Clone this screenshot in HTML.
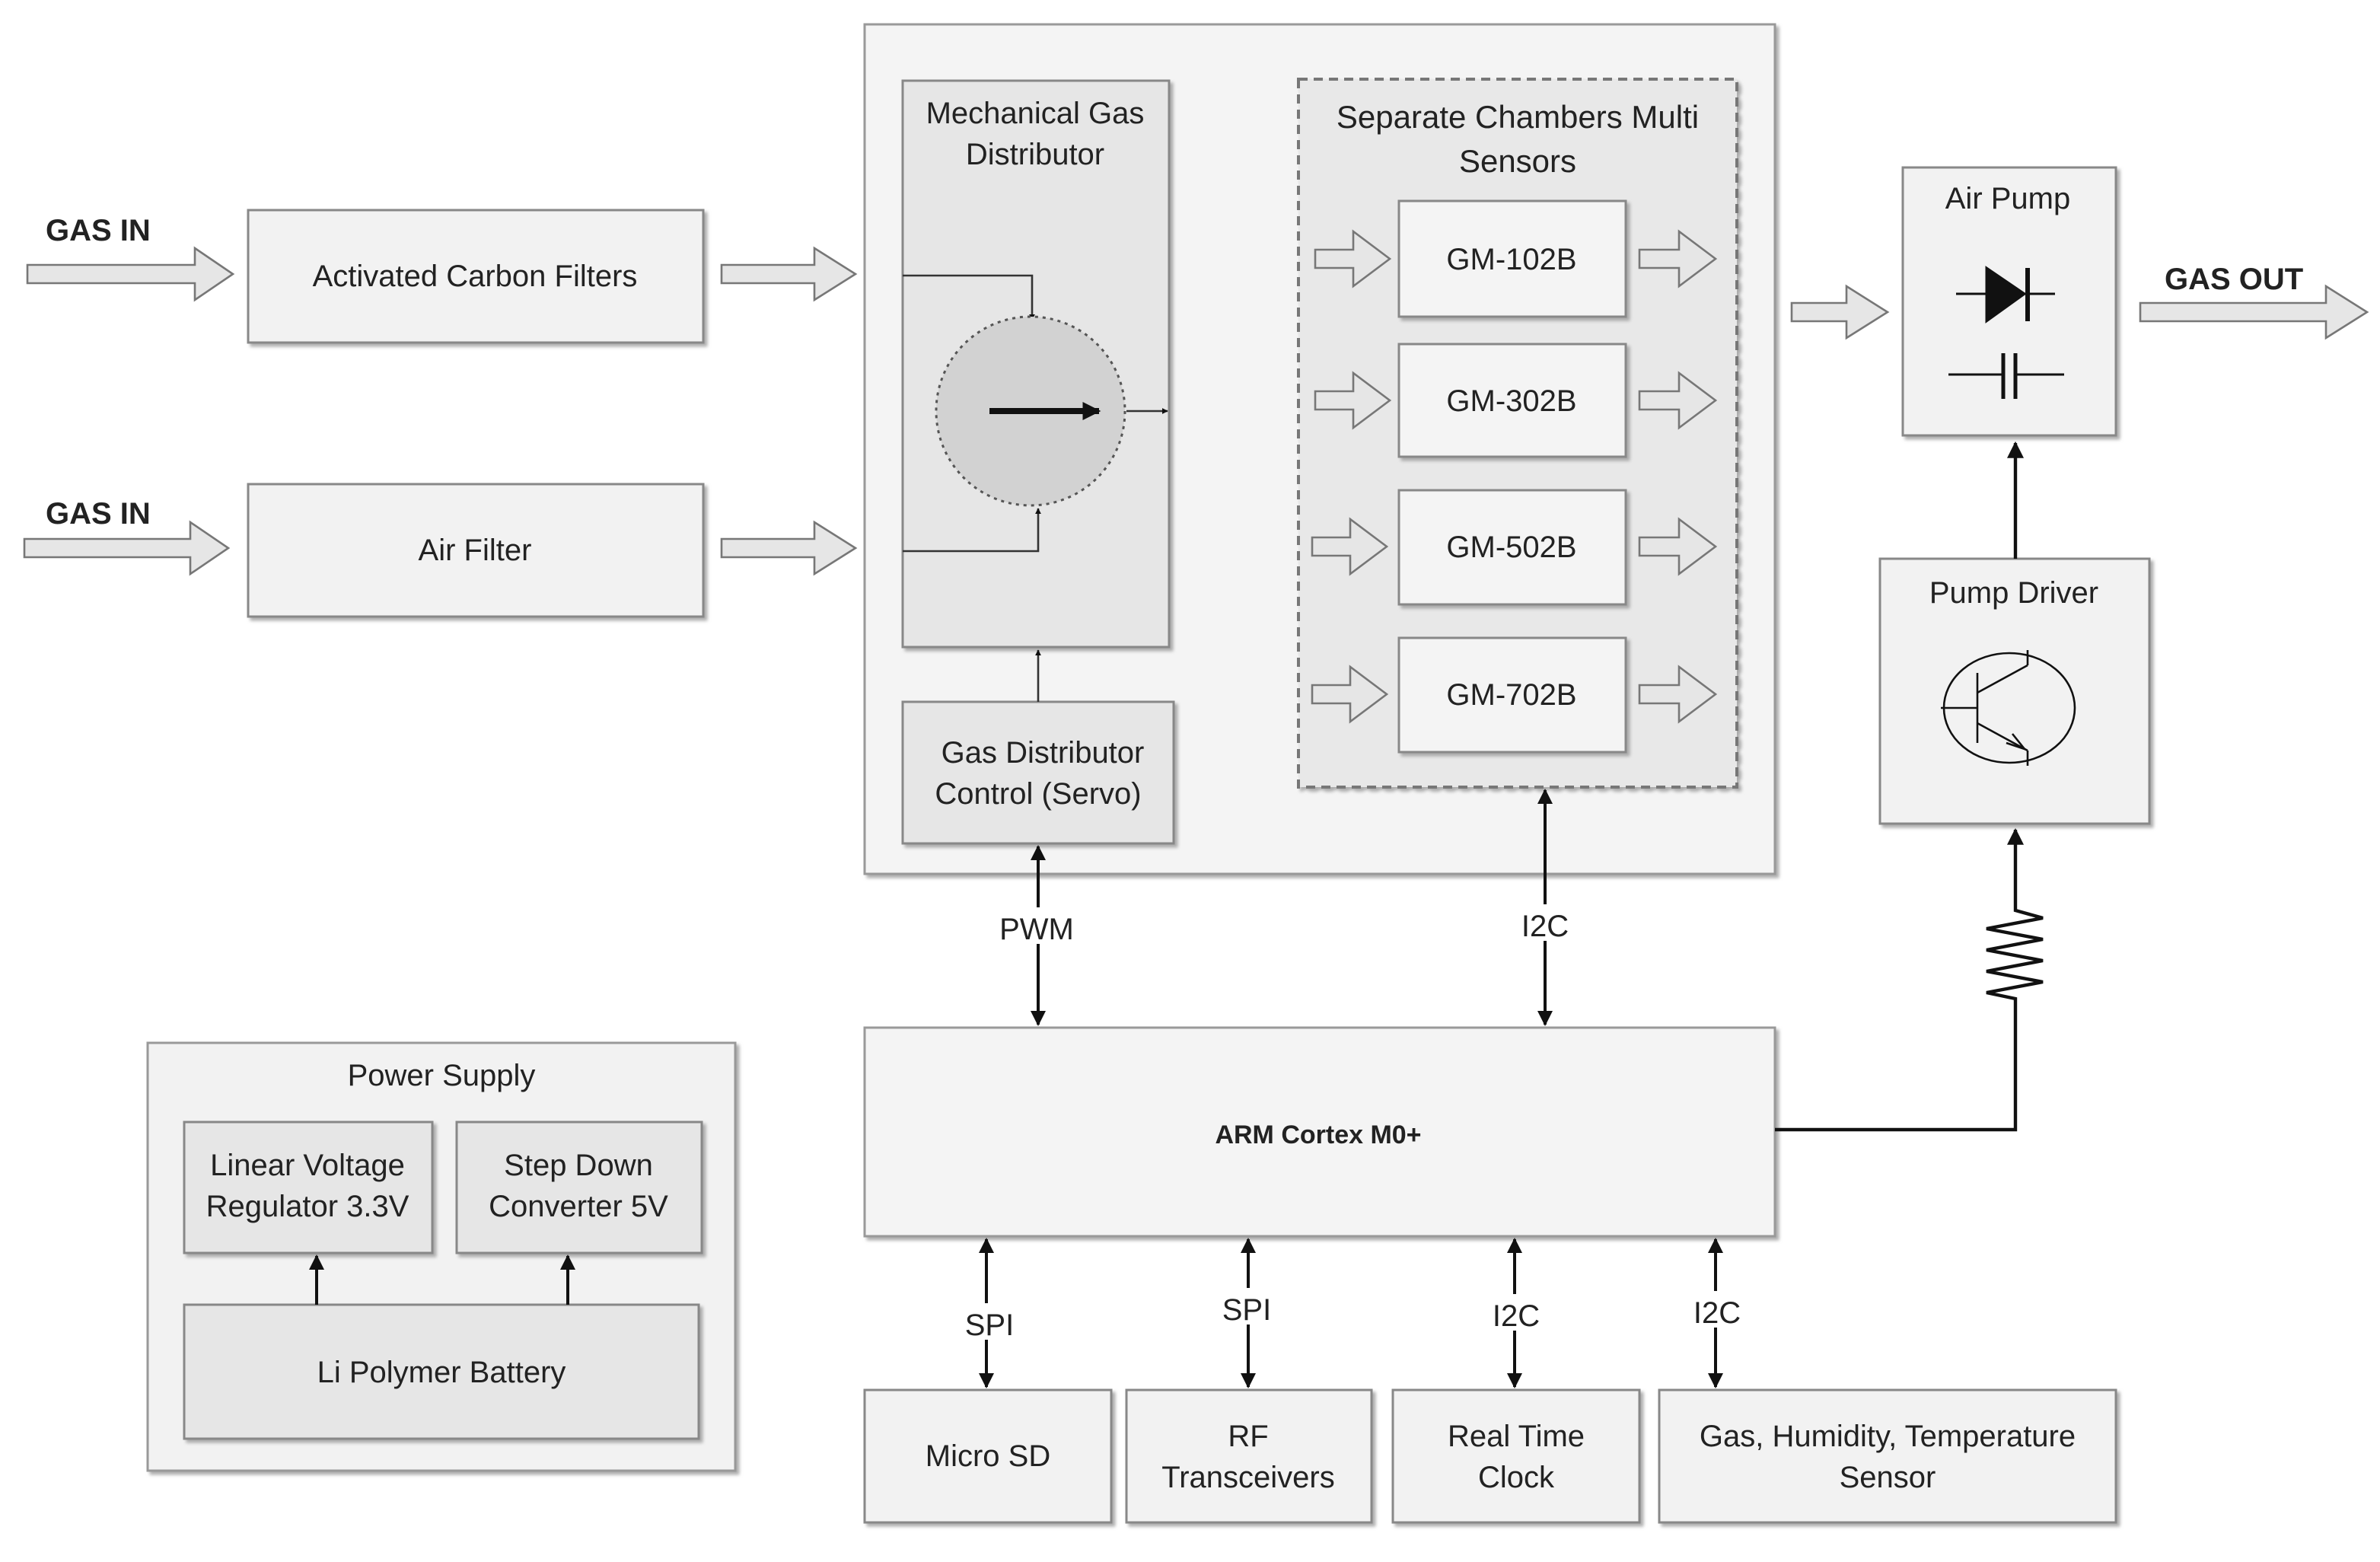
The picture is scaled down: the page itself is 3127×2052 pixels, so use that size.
<!DOCTYPE html>
<html><head><meta charset="utf-8"><style>
html,body{margin:0;padding:0;background:#fff;}
svg{display:block;}
text{font-family:"Liberation Sans",sans-serif;fill:#222;}
</style></head><body>
<svg width="3127" height="2052" viewBox="0 0 1563.5 1026" xmlns="http://www.w3.org/2000/svg">
<defs>
<marker id="a" viewBox="0 0 10 10" refX="9" refY="5" markerWidth="5" markerHeight="5" orient="auto-start-reverse"><path d="M0,0 L10,5 L0,10 z" fill="#111"/></marker>
<marker id="s" viewBox="0 0 10 10" refX="9" refY="5" markerWidth="3" markerHeight="3" orient="auto-start-reverse"><path d="M0,0 L10,5 L0,10 z" fill="#111"/></marker>
<filter id="sh" x="-5%" y="-5%" width="115%" height="115%"><feDropShadow dx="2" dy="2" stdDeviation="1" flood-color="#999" flood-opacity="0.8"/></filter>
</defs>
<g id="hollow" style="display:none"></g>

<!-- GAS IN -->
<text x="30" y="158" font-size="20" font-weight="bold" fill="#111">GAS IN</text>
<text x="30" y="344" font-size="20" font-weight="bold" fill="#111">GAS IN</text>

<!-- hollow arrows -->
<g fill="#e6e6e6" stroke="#777" stroke-width="1.3">
<path d="M18,174 H128 V163 L153,180 L128,197 V186 H18 Z"/>
<path d="M16,354 H125 V343 L150,360 L125,377 V366 H16 Z"/>
<path d="M474,174 H535 V163 L562,180 L535,197 V186 H474 Z"/>
<path d="M474,354 H535 V343 L562,360 L535,377 V366 H474 Z"/>
<path d="M781,264 H818 V253 L843,270 L818,287 V276 H781 Z"/>
<path d="M1177,199 H1213 V188 L1240,205 L1213,222 V211 H1177 Z"/>
<path d="M1406,199 H1528 V188 L1555,205 L1528,222 V211 H1406 Z"/>
</g>

<!-- left boxes -->
<g fill="#f2f2f2" stroke="#888" stroke-width="1.5" filter="url(#sh)">
<rect x="163" y="138" width="299" height="87"/>
<rect x="163" y="318" width="299" height="87"/>
</g>
<text x="312" y="188" font-size="20" text-anchor="middle">Activated Carbon Filters</text>
<text x="312" y="368" font-size="20" text-anchor="middle">Air Filter</text>

<!-- big container -->
<rect x="568" y="16" width="598" height="558" fill="#f4f4f4" stroke="#999" stroke-width="1.5" filter="url(#sh)"/>
<rect x="593" y="53" width="175" height="372" fill="#e6e6e6" stroke="#888" stroke-width="1.5" filter="url(#sh)"/>
<text x="680" y="81" font-size="20" text-anchor="middle">Mechanical Gas</text>
<text x="680" y="108" font-size="20" text-anchor="middle">Distributor</text>
<path d="M593,181 H678 V210" fill="none" stroke="#333" stroke-width="1.3" marker-end="url(#s)"/>
<path d="M593,362 H682 V334" fill="none" stroke="#333" stroke-width="1.3" marker-end="url(#s)"/>
<circle cx="677" cy="270" r="62" fill="#d2d2d2" stroke="#555" stroke-width="1.5" stroke-dasharray="2,3"/>
<line x1="650" y1="270" x2="722" y2="270" stroke="#111" stroke-width="4" marker-end="url(#s)"/>
<line x1="740" y1="270" x2="767" y2="270" stroke="#333" stroke-width="1.3" marker-end="url(#s)"/>

<rect x="853" y="52" width="288" height="465" fill="#e8e8e8" stroke="#777" stroke-width="2" stroke-dasharray="6,4" filter="url(#sh)"/>
<text x="997" y="84" font-size="21" text-anchor="middle">Separate Chambers Multi</text>
<text x="997" y="113" font-size="21" text-anchor="middle">Sensors</text>
<g fill="#f4f4f4" stroke="#888" stroke-width="1.5" filter="url(#sh)">
<rect x="919" y="132" width="149" height="76"/>
<rect x="919" y="226" width="149" height="74"/>
<rect x="919" y="322" width="149" height="75"/>
<rect x="919" y="419" width="149" height="75"/>
</g>
<g font-size="20" text-anchor="middle">
<text x="993" y="177">GM-102B</text>
<text x="993" y="270">GM-302B</text>
<text x="993" y="366">GM-502B</text>
<text x="993" y="463">GM-702B</text>
</g>
<g fill="#e6e6e6" stroke="#777" stroke-width="1.3">
<path d="M864,164 H889 V152 L913,170 L889,188 V176 H864 Z"/>
<path d="M864,257 H889 V245 L913,263 L889,281 V269 H864 Z"/>
<path d="M862,353 H887 V341 L911,359 L887,377 V365 H862 Z"/>
<path d="M862,450 H887 V438 L911,456 L887,474 V462 H862 Z"/>
<path d="M1077,164 H1103 V152 L1127,170 L1103,188 V176 H1077 Z"/>
<path d="M1077,257 H1103 V245 L1127,263 L1103,281 V269 H1077 Z"/>
<path d="M1077,353 H1103 V341 L1127,359 L1103,377 V365 H1077 Z"/>
<path d="M1077,450 H1103 V438 L1127,456 L1103,474 V462 H1077 Z"/>
</g>

<rect x="593" y="461" width="178" height="93" fill="#e6e6e6" stroke="#888" stroke-width="1.5" filter="url(#sh)"/>
<text x="685" y="501" font-size="20" text-anchor="middle">Gas Distributor</text>
<text x="682" y="528" font-size="20" text-anchor="middle">Control (Servo)</text>
<line x1="682" y1="461" x2="682" y2="427" stroke="#333" stroke-width="1.3" marker-end="url(#s)"/>

<!-- PWM / I2C -->
<g stroke="#111" stroke-width="2" fill="none">
<line x1="682" y1="556" x2="682" y2="673" marker-start="url(#a)" marker-end="url(#a)"/>
<line x1="1015" y1="519" x2="1015" y2="673" marker-start="url(#a)" marker-end="url(#a)"/>
</g>
<rect x="652" y="596" width="60" height="24" fill="#fff"/>
<rect x="995" y="594" width="40" height="24" fill="#fff"/>
<text x="681" y="617" font-size="20" text-anchor="middle">PWM</text>
<text x="1015" y="615" font-size="20" text-anchor="middle">I2C</text>

<!-- ARM -->
<rect x="568" y="675" width="598" height="137" fill="#f4f4f4" stroke="#999" stroke-width="1.5" filter="url(#sh)"/>
<text x="866" y="751" font-size="17" font-weight="bold" text-anchor="middle" fill="#111">ARM Cortex M0+</text>

<!-- right chain -->
<path d="M1166,742 H1324 V656 L1324,656 L1305,652 L1342,645 L1305,638 L1342,631 L1305,624 L1342,617 L1305,610 L1342,603 L1324,598 V545" fill="none" stroke="#111" stroke-width="2.2" marker-end="url(#a)"/>
<rect x="1235" y="367" width="177" height="174" fill="#f2f2f2" stroke="#888" stroke-width="1.5" filter="url(#sh)"/>
<text x="1323" y="396" font-size="20" text-anchor="middle">Pump Driver</text>
<g stroke="#111" stroke-width="1.3" fill="none">
<ellipse cx="1320" cy="465" rx="43" ry="36"/>
<line x1="1275" y1="465" x2="1299" y2="465"/>
<line x1="1299" y1="442" x2="1299" y2="488"/>
<line x1="1299" y1="455" x2="1332" y2="437"/>
<line x1="1332" y1="437" x2="1332" y2="427"/>
<line x1="1299" y1="475" x2="1332" y2="493"/>
<line x1="1332" y1="493" x2="1332" y2="503"/>
<path d="M1318,488 L1330,492 L1322,482"/>
</g>
<line x1="1324" y1="367" x2="1324" y2="291" stroke="#111" stroke-width="2.2" marker-end="url(#a)"/>
<rect x="1250" y="110" width="140" height="176" fill="#f2f2f2" stroke="#888" stroke-width="1.5" filter="url(#sh)"/>
<text x="1319" y="137" font-size="20" text-anchor="middle">Air Pump</text>
<g stroke="#111" stroke-width="1.5">
<line x1="1285" y1="193" x2="1350" y2="193"/>
<path d="M1305,176 L1305,211 L1330,193 Z" fill="#111"/>
<line x1="1332" y1="176" x2="1332" y2="211" stroke-width="3"/>
<line x1="1280" y1="246" x2="1316" y2="246"/>
<line x1="1324" y1="246" x2="1356" y2="246"/>
<line x1="1316" y1="232" x2="1316" y2="262" stroke-width="2.5"/>
<line x1="1324" y1="232" x2="1324" y2="262" stroke-width="2.5"/>
</g>
<text x="1422" y="190" font-size="20" font-weight="bold" fill="#111">GAS OUT</text>

<!-- Power supply -->
<rect x="97" y="685" width="386" height="281" fill="#f2f2f2" stroke="#999" stroke-width="1.5" filter="url(#sh)"/>
<text x="290" y="713" font-size="20" text-anchor="middle">Power Supply</text>
<g fill="#e6e6e6" stroke="#888" stroke-width="1.5" filter="url(#sh)">
<rect x="121" y="737" width="163" height="86"/>
<rect x="300" y="737" width="161" height="86"/>
<rect x="121" y="857" width="338" height="88"/>
</g>
<g font-size="20" text-anchor="middle">
<text x="202" y="772">Linear Voltage</text>
<text x="202" y="799">Regulator 3.3V</text>
<text x="380" y="772">Step Down</text>
<text x="380" y="799">Converter 5V</text>
<text x="290" y="908">Li Polymer Battery</text>
</g>
<g stroke="#111" stroke-width="2">
<line x1="208" y1="857" x2="208" y2="825" marker-end="url(#a)"/>
<line x1="373" y1="857" x2="373" y2="825" marker-end="url(#a)"/>
</g>

<!-- bottom buses -->
<g stroke="#111" stroke-width="2">
<line x1="648" y1="814" x2="648" y2="911" marker-start="url(#a)" marker-end="url(#a)"/>
<line x1="820" y1="814" x2="820" y2="911" marker-start="url(#a)" marker-end="url(#a)"/>
<line x1="995" y1="814" x2="995" y2="911" marker-start="url(#a)" marker-end="url(#a)"/>
<line x1="1127" y1="814" x2="1127" y2="911" marker-start="url(#a)" marker-end="url(#a)"/>
</g>
<g fill="#fff">
<rect x="630" y="856" width="38" height="24"/>
<rect x="800" y="846" width="40" height="24"/>
<rect x="977" y="850" width="36" height="24"/>
<rect x="1109" y="848" width="36" height="24"/>
</g>
<g font-size="20" text-anchor="middle">
<text x="650" y="877">SPI</text>
<text x="819" y="867">SPI</text>
<text x="996" y="871">I2C</text>
<text x="1128" y="869">I2C</text>
</g>
<g fill="#f2f2f2" stroke="#888" stroke-width="1.5" filter="url(#sh)">
<rect x="568" y="913" width="162" height="87"/>
<rect x="740" y="913" width="161" height="87"/>
<rect x="915" y="913" width="162" height="87"/>
<rect x="1090" y="913" width="300" height="87"/>
</g>
<g font-size="20" text-anchor="middle">
<text x="649" y="963">Micro SD</text>
<text x="820" y="950">RF</text>
<text x="820" y="977">Transceivers</text>
<text x="996" y="950">Real Time</text>
<text x="996" y="977">Clock</text>
<text x="1240" y="950">Gas, Humidity, Temperature</text>
<text x="1240" y="977">Sensor</text>
</g>
</svg>
</body></html>
